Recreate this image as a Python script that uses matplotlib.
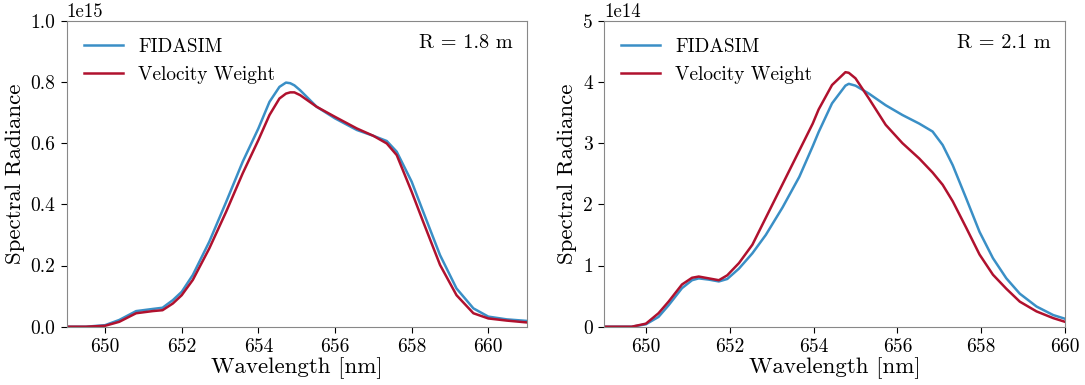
import matplotlib
matplotlib.use('Agg')
import matplotlib.pyplot as plt
import numpy as np

plt.rcParams['font.family'] = 'serif'
plt.rcParams['font.serif'] = ['cmr10']
plt.rcParams['mathtext.fontset'] = 'cm'
plt.rcParams['axes.unicode_minus'] = False

# R = 1.8 m  (units of 1e15)
wl_18 = [649.0, 649.5, 650.0, 650.37, 650.81, 651.24, 651.5, 651.77, 652.0, 652.29,
         652.72, 653.16, 653.59, 654.0, 654.29, 654.55, 654.72, 654.83, 654.94, 655.09,
         655.52, 656.0, 656.57, 657.0, 657.35, 657.61, 658.0, 658.3, 658.74, 659.17,
         659.61, 660.0, 660.48, 661.0]
fidasim_18 = [0.0, 0.0, 0.005, 0.022, 0.051, 0.058, 0.062, 0.087, 0.114, 0.169,
              0.278, 0.408, 0.539, 0.648, 0.735, 0.784, 0.798, 0.796, 0.789, 0.773,
              0.719, 0.681, 0.643, 0.624, 0.607, 0.572, 0.474, 0.376, 0.234, 0.125,
              0.060, 0.033, 0.024, 0.019]
vweight_18 = [0.0, 0.0, 0.003, 0.016, 0.044, 0.051, 0.054, 0.076, 0.103, 0.153,
              0.256, 0.376, 0.501, 0.610, 0.692, 0.746, 0.762, 0.766, 0.766, 0.757,
              0.719, 0.686, 0.648, 0.624, 0.599, 0.561, 0.441, 0.343, 0.202, 0.103,
              0.044, 0.027, 0.020, 0.014]

# R = 2.1 m  (units of 1e14)
wl_21 = [649.0, 649.66, 650.0, 650.3, 650.54, 650.86, 651.1, 651.26, 651.5, 651.74,
         651.94, 652.22, 652.54, 652.86, 653.26, 653.66, 653.98, 654.12, 654.44, 654.76,
         654.84, 655.0, 655.32, 655.72, 656.12, 656.52, 656.84, 657.08, 657.32, 657.64,
         657.96, 658.28, 658.6, 658.92, 659.32, 659.72, 660.0]
fidasim_21 = [0.0, 0.0, 0.04, 0.16, 0.35, 0.63, 0.76, 0.79, 0.77, 0.74,
              0.78, 0.95, 1.20, 1.50, 1.95, 2.45, 2.95, 3.18, 3.65, 3.94,
              3.97, 3.94, 3.81, 3.62, 3.46, 3.32, 3.19, 2.97, 2.64, 2.10,
              1.55, 1.12, 0.79, 0.54, 0.33, 0.19, 0.13]
vweight_21 = [0.0, 0.0, 0.05, 0.22, 0.41, 0.69, 0.80, 0.82, 0.79, 0.76,
              0.84, 1.04, 1.34, 1.78, 2.33, 2.88, 3.32, 3.55, 3.95, 4.16,
              4.15, 4.06, 3.73, 3.30, 3.00, 2.75, 2.52, 2.32, 2.05, 1.62,
              1.18, 0.85, 0.62, 0.41, 0.25, 0.14, 0.08]

panels = [
    (wl_18, fidasim_18, vweight_18, 1e15, 'R = 1.8 m', (649, 661), 1.0e15, np.arange(0, 1.01e15, 0.2e15)),
    (wl_21, fidasim_21, vweight_21, 1e14, 'R = 2.1 m', (649, 660), 5e14, np.arange(0, 5.1e14, 1e14)),
]

blue = '#3a8fc6'
red = '#b0112e'

fig = plt.figure(figsize=(10.85, 3.85), dpi=100)
lefts = [0.0615, 0.5567]
width = [0.4239, 0.4249]

for i, (wl, fid, vw, scale, label, xlim, ymax, yticks) in enumerate(panels):
    ax = fig.add_axes([lefts[i], 0.1514, width[i], 0.7946])
    ax.plot(wl, np.array(fid) * scale, color=blue, lw=1.8, label='FIDASIM')
    ax.plot(wl, np.array(vw) * scale, color=red, lw=1.8, label='Velocity Weight')
    ax.set_xlim(*xlim)
    ax.set_ylim(0, ymax)
    ax.set_xticks([650, 652, 654, 656, 658, 660])
    ax.set_yticks(yticks)
    ax.tick_params(labelsize=14, length=4, direction='out', pad=4)
    ax.yaxis.get_offset_text().set_fontsize(13.5)
    for sp in ax.spines.values():
        sp.set_color('#888888')
    ax.set_xlabel('Wavelength [nm]', fontsize=16.5, labelpad=1)
    ax.set_ylabel('Spectral Radiance', fontsize=16.5, labelpad=4)
    ax.legend(loc='upper left', frameon=False, fontsize=13.9)
    ax.text(0.97, 0.955, label, transform=ax.transAxes, ha='right', va='top', fontsize=14.6)

fig.savefig('out.png', dpi=100)
